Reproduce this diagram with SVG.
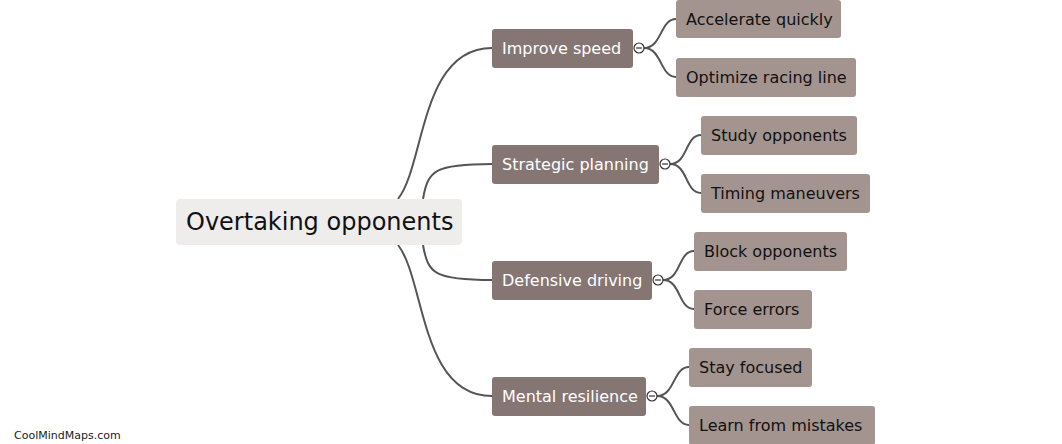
<svg xmlns="http://www.w3.org/2000/svg" width="1062" height="444" viewBox="0 0 1062 444">
<style>
text{font-family:"DejaVu Sans","Verdana",sans-serif;}
.root rect{fill:#eeedec;}
.root text{font-size:24px;fill:#111;}
.l1 rect{fill:#857673;}
.l1 text{font-size:16px;fill:#fff;}
.l2 rect{fill:#a39490;}
.l2 text{font-size:16px;fill:#111;}
.links path{fill:none;stroke:#555;stroke-width:2;}
.tog circle{fill:#fff;stroke:#333;stroke-width:1.2;}
.tog line{stroke:#333;stroke-width:1.2;}
.wm{font-size:11px;fill:#222;}
</style>
<rect width="1062" height="444" fill="#fff"/>
<g id="connectors" class="links">
<path d="M398,199 C425,165 420,48 492,48"/>
<path d="M423,199 C428,170 435,164 492,164"/>
<path d="M423,245 C428,274 435,280 492,280"/>
<path d="M398,245 C425,279 420,396 492,396"/>
<path d="M644,48 C662,48 660,19 676,19"/>
<path d="M644,48 C662,48 660,77 676,77"/>
<path d="M670,164 C688,164 685,135 701,135"/>
<path d="M670,164 C688,164 685,193 701,193"/>
<path d="M663,280 C681,280 678,251 694,251"/>
<path d="M663,280 C681,280 678,309 694,309"/>
<path d="M657,396 C675,396 673,367 689,367"/>
<path d="M657,396 C675,396 673,425 689,425"/>
</g>
<g id="root" class="root"><rect x="176" y="199" width="286" height="46" rx="4"/><text x="186" y="230">Overtaking opponents</text></g>
<g id="n1" class="l1"><rect x="492" y="29" width="141" height="39" rx="3"/><text x="502" y="54">Improve speed</text></g>
<g id="n2" class="l1"><rect x="492" y="145" width="167" height="39" rx="3"/><text x="502" y="170">Strategic planning</text></g>
<g id="n3" class="l1"><rect x="492" y="261" width="160" height="39" rx="3"/><text x="502" y="286">Defensive driving</text></g>
<g id="n4" class="l1"><rect x="492" y="377" width="154" height="39" rx="3"/><text x="502" y="402">Mental resilience</text></g>
<g id="t1" class="tog"><circle cx="639" cy="48" r="5"/><line x1="636" y1="48" x2="642" y2="48"/></g>
<g id="t2" class="tog"><circle cx="665" cy="164" r="5"/><line x1="662" y1="164" x2="668" y2="164"/></g>
<g id="t3" class="tog"><circle cx="658" cy="280" r="5"/><line x1="655" y1="280" x2="661" y2="280"/></g>
<g id="t4" class="tog"><circle cx="652" cy="396" r="5"/><line x1="649" y1="396" x2="655" y2="396"/></g>
<g id="n1a" class="l2"><rect x="676" y="0" width="165" height="38" rx="3"/><text x="686" y="25">Accelerate quickly</text></g>
<g id="n1b" class="l2"><rect x="676" y="58" width="180" height="39" rx="3"/><text x="686" y="83">Optimize racing line</text></g>
<g id="n2a" class="l2"><rect x="701" y="116" width="156" height="39" rx="3"/><text x="711" y="141">Study opponents</text></g>
<g id="n2b" class="l2"><rect x="701" y="174" width="169" height="39" rx="3"/><text x="711" y="199">Timing maneuvers</text></g>
<g id="n3a" class="l2"><rect x="694" y="232" width="153" height="39" rx="3"/><text x="704" y="257">Block opponents</text></g>
<g id="n3b" class="l2"><rect x="694" y="290" width="118" height="39" rx="3"/><text x="704" y="315">Force errors</text></g>
<g id="n4a" class="l2"><rect x="689" y="348" width="123" height="39" rx="3"/><text x="699" y="373">Stay focused</text></g>
<g id="n4b" class="l2"><rect x="689" y="406" width="186" height="39" rx="3"/><text x="699" y="431">Learn from mistakes</text></g>
<text class="wm" x="14" y="439">CoolMindMaps.com</text>
</svg>
